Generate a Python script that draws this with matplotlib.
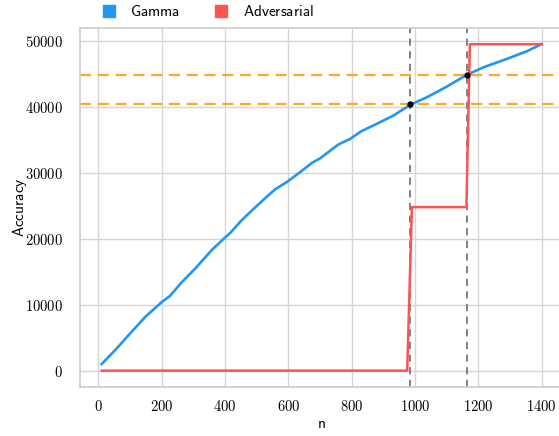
import numpy as np
import matplotlib
matplotlib.use('Agg')
import matplotlib.pyplot as plt
from matplotlib.lines import Line2D
from matplotlib.ticker import FuncFormatter

plt.rcParams['mathtext.fontset'] = 'cm'

# accuracy of the gamma strategy against n
gamma_n = [10, 53, 105, 148, 200, 225, 263, 306, 358, 398, 416, 450, 489, 530,
           558, 595, 637, 674, 700, 758, 795, 830, 868, 932, 986, 1037, 1100,
           1163, 1216, 1290, 1353, 1400]
gamma_acc = [1000, 3130, 5900, 8170, 10400, 11300, 13400, 15500, 18300, 20100,
             20880, 22700, 24500, 26300, 27500, 28600, 30100, 31500, 32200,
             34300, 35150, 36300, 37170, 38690, 40350, 41450, 43070, 44850,
             46000, 47280, 48430, 49530]

# adversarial step curve
adv_n = [10, 975, 990, 1162, 1173, 1400]
adv_acc = [0, 0, 24800, 24800, 49500, 49500]

# thresholds and the n where gamma crosses them
thresholds = [40400, 44870]
cross_n = [984, 1164]

blue = '#2196f3'
red = '#ff5252'
orange = '#ffa726'

fig = plt.figure(figsize=(5.59, 4.36), dpi=100)
ax = fig.add_axes([0.1425, 0.1125, 0.866, 0.824])

ax.set_facecolor('white')
ax.grid(True, color='#d5d5d5', linewidth=1.0)
ax.set_axisbelow(True)
for s in ax.spines.values():
    s.set_color('#cccccc')
    s.set_linewidth(1.2)
ax.tick_params(length=0, labelsize=10.5)
ax.tick_params(axis='x', pad=9)
ax.tick_params(axis='y', pad=12)

ax.plot(gamma_n, gamma_acc, color=blue, linewidth=1.9, zorder=3)
ax.plot(adv_n, adv_acc, color=red, linewidth=1.8, zorder=3)

for t in thresholds:
    ax.axhline(t, color=orange, linestyle='--', linewidth=1.6, dashes=(5, 3), zorder=2)
for c in cross_n:
    ax.axvline(c, color='#777777', linestyle='--', linewidth=1.3, dashes=(4, 3), zorder=2)
ax.plot(cross_n, thresholds, 'o', color='black', markersize=3.5, zorder=5)

ax.set_xticks([0, 200, 400, 600, 800, 1000, 1200, 1400])
ax.set_yticks([0, 10000, 20000, 30000, 40000, 50000])
fmt = FuncFormatter(lambda v, p: '$%d$' % v)
ax.xaxis.set_major_formatter(fmt)
ax.yaxis.set_major_formatter(fmt)

ax.set_xlabel(r'$\mathsf{n}$', fontsize=11, labelpad=1)
ax.set_ylabel(r'$\mathsf{Accuracy}$', fontsize=11, labelpad=-3)

handles = [Line2D([], [], marker='s', linestyle='none', color=blue, markersize=8),
           Line2D([], [], marker='s', linestyle='none', color=red, markersize=8)]
fig.legend(handles, [r'$\mathsf{Gamma}$', r'$\mathsf{Adversarial}$'],
           loc='center left', bbox_to_anchor=(0.181, 0.973), ncol=2,
           frameon=False, fontsize=11, handlelength=1.0, handletextpad=0.9,
           columnspacing=2.2, borderpad=0, borderaxespad=0)

fig.savefig('out.png', dpi=100)
